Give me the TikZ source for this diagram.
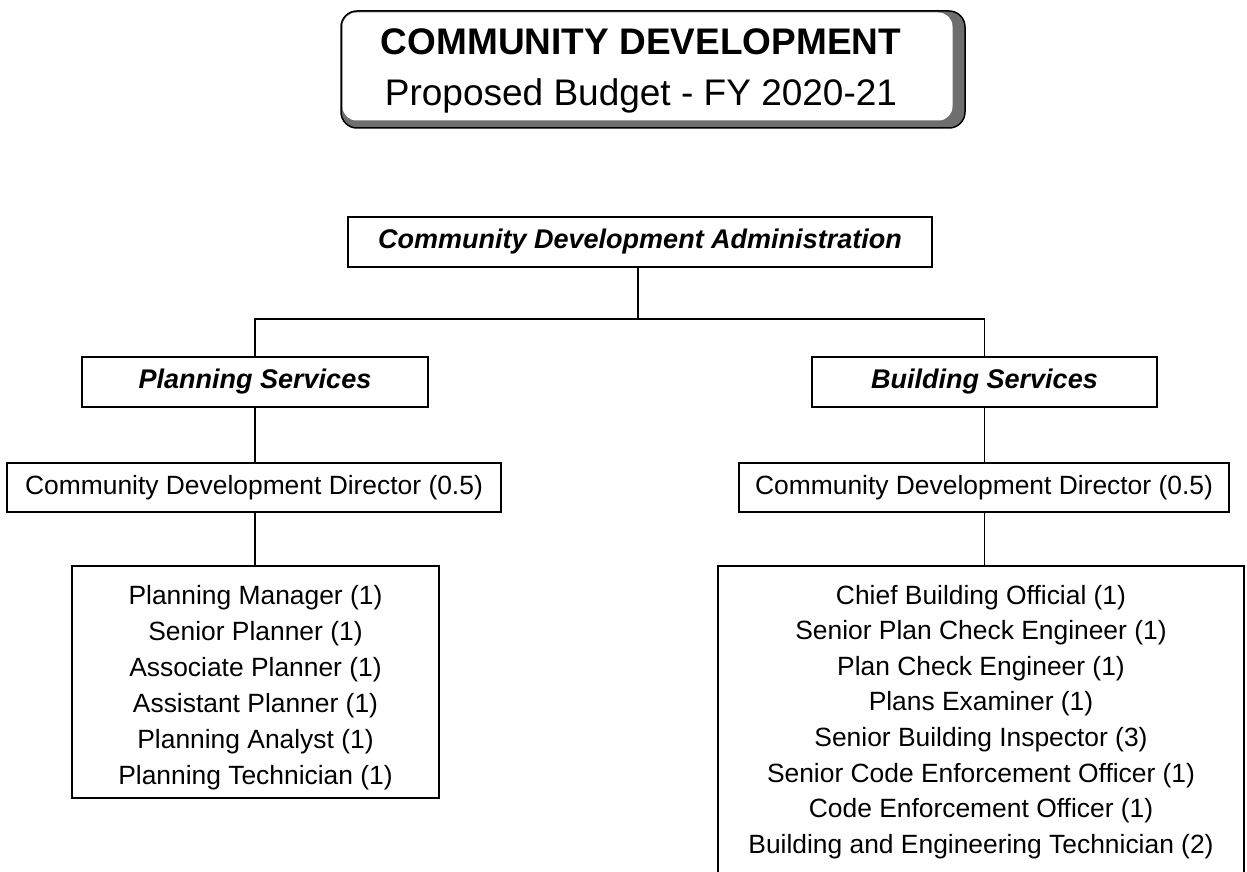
\documentclass[tikz,border=0pt]{standalone}
\usepackage{fontspec}
\setmainfont{Liberation Sans}
\definecolor{shadowgray}{HTML}{6E6E6E}
\begin{document}
\begin{tikzpicture}[x=1pt,y=-1pt,
  box/.style={draw=black, line width=1.5pt, rectangle, inner sep=0pt},
  hdr/.style={box, minimum height=50pt, font=\fontsize{27}{32}\selectfont\bfseries\itshape},
  cdd/.style={box, minimum height=49pt, font=\fontsize{26.4}{32}\selectfont},
  listtext/.style={anchor=base, align=center, inner sep=0pt, font=\fontsize{26.4}{36}\selectfont},
  link/.style={draw=black, line width=1.5pt}]
\useasboundingbox (0,0) rectangle (1247,872);
\clip (0,0) rectangle (1247,872);
% title
\node[draw=black, line width=1.5pt, fill=shadowgray, rounded corners=16pt, minimum width=624pt, minimum height=117pt, inner sep=0pt] (tshadow) at (653,69.5) {};
\node[fill=white, rounded corners=14pt, minimum width=610pt, minimum height=108pt, inner sep=0pt] (tbox) at (647.5,66.5) {};
\node[anchor=base, inner sep=0pt, font=\fontsize{37}{44}\selectfont\bfseries] (t1) at (641,55) {COMMUNITY DEVELOPMENT};
\node[anchor=base, inner sep=0pt, font=\fontsize{37}{44}\selectfont] (t2) at (641,106) {Proposed Budget - FY 2020-21};
% headers
\node[hdr, minimum width=584pt] (adm) at (640,242) {Community Development Administration};
\node[hdr, minimum width=346pt] (ps) at (255,382) {Planning Services};
\node[hdr, minimum width=345pt] (bs) at (984.5,382) {Building Services};
\node[cdd, minimum width=494pt] (cddL) at (254,487.5) {Community Development Director (0.5)};
\node[cdd, minimum width=490pt] (cddR) at (984,487.5) {Community Development Director (0.5)};
% lists
\node[box, minimum width=367pt, minimum height=232pt] (pl) at (255.5,682) {};
\node[listtext] (pltext) at (255.5,784) {Planning Manager (1)\\Senior Planner (1)\\Associate Planner (1)\\Assistant Planner (1)\\Planning Analyst (1)\\Planning Technician (1)};
\node[box, minimum width=526pt, minimum height=334pt] (bl) at (981,733) {};
\node[listtext, font=\fontsize{26.4}{35.6}\selectfont] (bltext) at (981,853.2) {Chief Building Official (1)\\Senior Plan Check Engineer (1)\\Plan Check Engineer (1)\\Plans Examiner (1)\\Senior Building Inspector (3)\\Senior Code Enforcement Officer (1)\\Code Enforcement Officer (1)\\Building and Engineering Technician (2)};
% connectors
\coordinate (bar) at (638,319);
\draw[link] (adm.south -| bar) -- (bar);
\draw[link] (ps.north) -- (ps.north |- bar) -- (bs.north |- bar) -- (bs.north);
\draw[link] (ps.south) -- (ps.south |- cddL.north);
\draw[link] (bs.south) -- (bs.south |- cddR.north);
\draw[link] (cddL.south -| ps.south) -- (ps.south |- pl.north);
\draw[link] (cddR.south -| bs.south) -- (bs.south |- bl.north);
\end{tikzpicture}
\end{document}
